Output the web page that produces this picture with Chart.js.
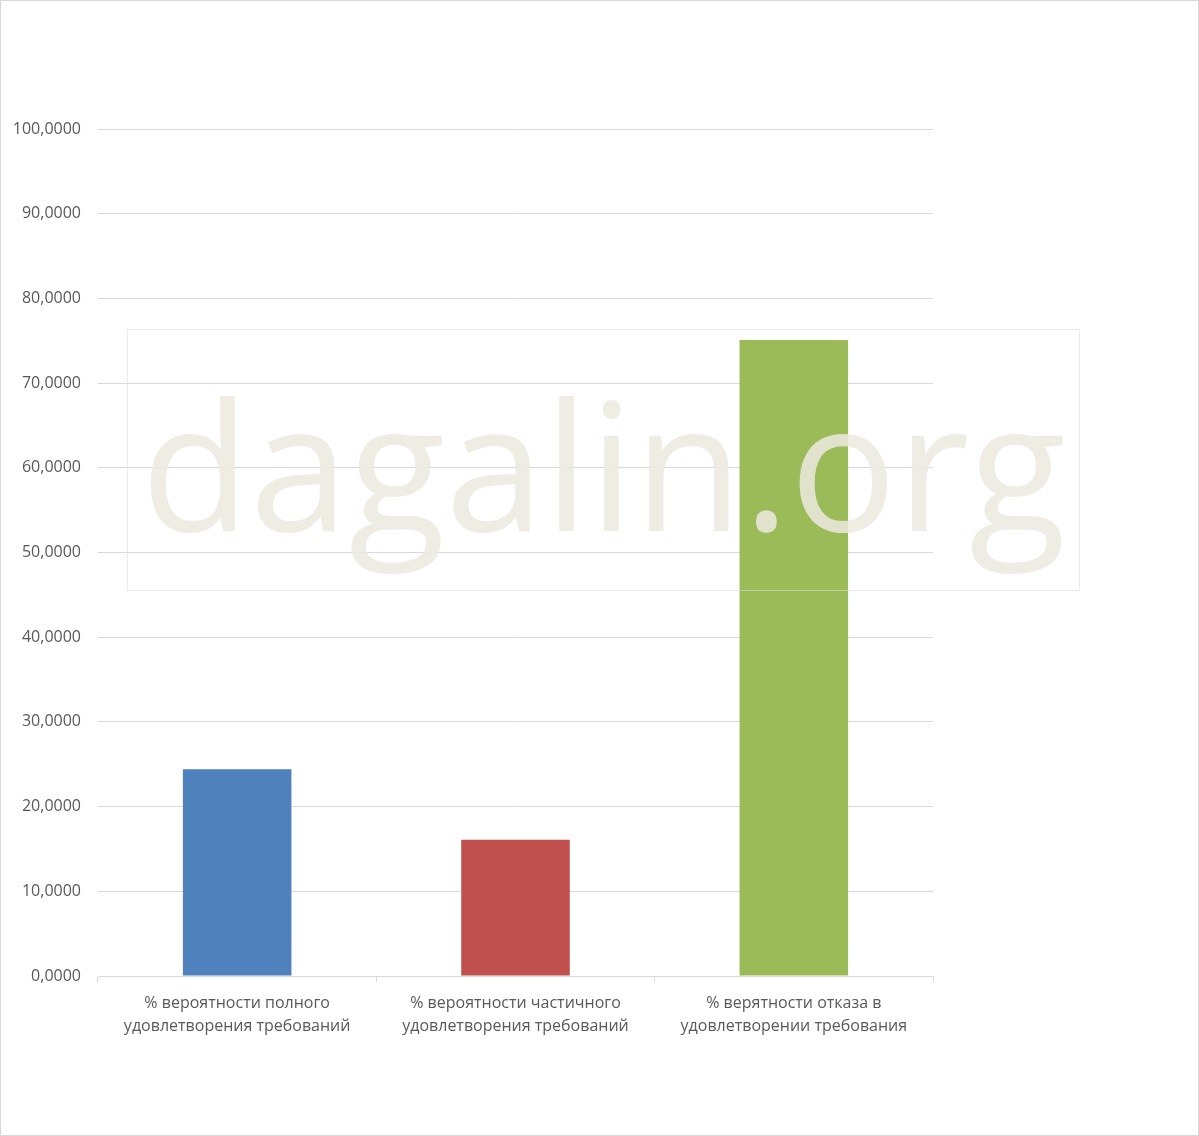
<!DOCTYPE html>
<html><head><meta charset="utf-8">
<script src="https://cdn.jsdelivr.net/npm/chart.js@4"></script>
<style>
html,body{margin:0;padding:0;background:#fff}
#wrap{width:1197px;height:1134px;border:1px solid #d9d9d9;position:relative}
</style></head><body>
<div id="wrap"><canvas id="c" width="1197" height="1134"></canvas></div>
<script>
const categories = [
  ['% вероятности полного', 'удовлетворения требований'],
  ['% вероятности частичного', 'удовлетворения требований'],
  ['% верятности отказа в', 'удовлетворении требования']
]
const values = [24.4, 16.1, 75.1]
const colors = ['#4f81bd', '#c0504d', '#9bbb59']
const watermark = 'dagalin.org'

const watermarkPlugin = {
  id: 'wm',
  afterDatasetsDraw(chart) {
    const ctx = chart.ctx
    ctx.save()
    ctx.strokeStyle = 'rgba(220,220,220,0.6)'
    ctx.lineWidth = 1
    ctx.strokeRect(126.5, 328.5, 952, 261)
    let size = 200
    ctx.font = size + 'px "Open Sans"'
    const w = ctx.measureText(watermark).width
    size = size * 925 / w
    ctx.font = size + 'px "Open Sans"'
    ctx.fillStyle = 'rgba(236,233,223,0.85)'
    ctx.textBaseline = 'alphabetic'
    ctx.fillText(watermark, 140, 530)
    ctx.restore()
  }
}

new Chart(document.getElementById('c'), {
  type: 'bar',
  data: {
    labels: categories,
    datasets: [{ data: values, backgroundColor: colors, barPercentage: 0.39, categoryPercentage: 1 }]
  },
  options: {
    responsive: false,
    animation: false,
    layout: { padding: { top: 128, right: 265, left: 0, bottom: 0 } },
    plugins: { legend: { display: false }, tooltip: { enabled: false } },
    scales: {
      y: {
        min: 0, max: 100,
        ticks: { stepSize: 10, color: '#595959', font: { size: 16, family: 'Open Sans' }, padding: 17,
          callback: v => v.toFixed(4).replace('.', ',') },
        grid: { color: '#d9d9d9', drawTicks: false },
        border: { display: false },
        afterFit(s) { s.width = 97 }
      },
      x: {
        ticks: { color: '#595959', font: { size: 16, family: 'Open Sans', lineHeight: 1.45 }, padding: 10 },
        grid: { offset: true, drawOnChartArea: false, color: '#d9d9d9', tickLength: 6 },
        border: { color: '#d9d9d9' },
        afterFit(s) { s.height = 159 }
      }
    }
  },
  plugins: [watermarkPlugin]
})
</script>
</body></html>
